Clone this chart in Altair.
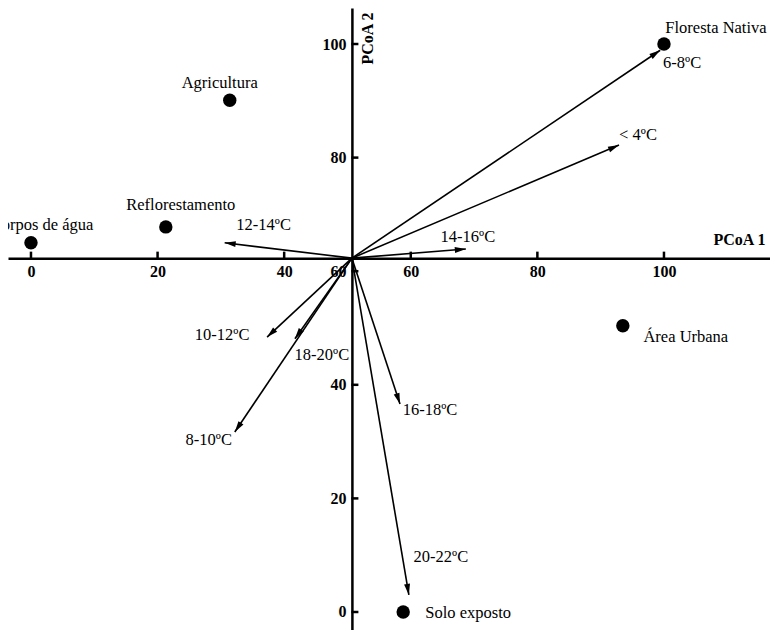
import math
import altair as alt
import pandas as pd

# ---------------- data ----------------
site_names = ["Corpos de água", "Reflorestamento", "Agricultura",
              "Floresta Nativa", "Área Urbana", "Solo exposto"]
site_x = [0.0, 21.3, 31.4, 100.0, 93.5, 58.8]
site_y = [65.0, 67.8, 90.1, 100.0, 50.4, 0.0]

temp_names = ["6-8ºC", "< 4ºC", "14-16ºC", "12-14ºC", "10-12ºC",
              "18-20ºC", "8-10ºC", "16-18ºC", "20-22ºC"]
temp_x = [99.4, 92.9, 68.7, 30.6, 37.3, 41.7, 32.2, 58.3, 59.7]
temp_y = [98.9, 82.2, 63.9, 65.0, 48.4, 48.1, 31.7, 36.6, 3.0]

origin_x = 50.7
origin_y = 62.3

tick_values = [0, 20, 40, 60, 80, 100]

# ---------------- layout / style ----------------
W, H = 762, 622
XMIN, XMAX = -3.63, 116.75
YMIN, YMAX = -3.17, 106.34
px_x = W / (XMAX - XMIN)
px_y = H / (YMAX - YMIN)
axis_svg_y = (YMAX - origin_y) * px_y
axis_svg_x = (origin_x - XMIN) * px_x

FONT = "Liberation Serif"

site_offsets = [(11, -18), (15, -22), (-10, -17), (52, -16), (63, 11), (65, 1)]
temp_offsets = [(22, 13), (19, -10), (2, -12), (39, -18), (-45, -2),
                (27, 16), (-26, 8), (30, 6), (32, -38)]

xscale = alt.Scale(domain=[XMIN, XMAX], nice=False, zero=False)
yscale = alt.Scale(domain=[YMIN, YMAX], nice=False, zero=False)

common_axis = dict(values=tick_values, grid=False, ticks=False, tickSize=0,
                   domainColor="black", domainWidth=2.5,
                   labelFont=FONT, labelFontSize=16, labelFontWeight="bold",
                   labelColor="black", labelOverlap=False, labelFlush=False,
                   titleFont=FONT, titleFontSize=16, titleFontWeight="bold",
                   titleColor="black")

xaxis = alt.Axis(offset=axis_svg_y - H, labelPadding=5, title="PCoA 1",
                 titleX=757, titleY=-19, titleAlign="right",
                 titleBaseline="middle", **common_axis)
yaxis = alt.Axis(offset=-axis_svg_x, labelPadding=6, title="PCoA 2",
                 titleAngle=270, titleX=16, titleY=30, titleAlign="center",
                 titleBaseline="middle", **common_axis)


def X(field="x"):
    return alt.X(f"{field}:Q", scale=xscale, axis=xaxis, title="PCoA 1")


def Y(field="y"):
    return alt.Y(f"{field}:Q", scale=yscale, axis=yaxis, title="PCoA 2")


# ---------------- frames ----------------
sites = pd.DataFrame({"name": site_names, "x": site_x, "y": site_y})
temps = pd.DataFrame({"name": temp_names, "x": temp_x, "y": temp_y})
temps["ox"] = origin_x
temps["oy"] = origin_y
temps["angle"] = [
    (math.degrees(math.atan2((tx - origin_x) * px_x, (ty - origin_y) * px_y)) + 360) % 360
    for tx, ty in zip(temp_x, temp_y)
]

xticks = pd.DataFrame({"x": tick_values, "y": [origin_y] * len(tick_values)})
yticks = pd.DataFrame({"x": [origin_x] * len(tick_values), "y": tick_values})

layers = []

layers.append(
    alt.Chart(xticks).mark_tick(orient="vertical", size=7, thickness=2.5,
                                yOffset=-3, color="black", opacity=1)
    .encode(x=X(), y=Y())
)
layers.append(
    alt.Chart(yticks).mark_tick(orient="horizontal", size=7, thickness=2.5,
                                xOffset=3, color="black", opacity=1)
    .encode(x=X(), y=Y())
)

# arrow shafts
layers.append(
    alt.Chart(temps).mark_rule(color="black", strokeWidth=1.6)
    .encode(x=X(), y=Y(), x2=alt.X2("ox"), y2=alt.Y2("oy"))
)
# arrow heads
layers.append(
    alt.Chart(temps).mark_point(shape="M0,0L-0.6,2.2L0.6,2.2Z", filled=True,
                                size=100, color="black", opacity=1)
    .encode(x=X(), y=Y(), angle=alt.Angle("angle:Q", scale=None))
)

# site points
layers.append(
    alt.Chart(sites).mark_circle(size=180, color="black", opacity=1)
    .encode(x=X(), y=Y())
)

# labels
for i, (dx, dy) in enumerate(site_offsets):
    layers.append(
        alt.Chart(sites.iloc[[i]]).mark_text(font=FONT, fontSize=16.5, color="black",
                                             align="center", baseline="middle",
                                             dx=dx, dy=dy)
        .encode(x=X(), y=Y(), text="name:N")
    )
for i, (dx, dy) in enumerate(temp_offsets):
    layers.append(
        alt.Chart(temps.iloc[[i]]).mark_text(font=FONT, fontSize=16.5, color="black",
                                             align="center", baseline="middle",
                                             dx=dx, dy=dy)
        .encode(x=X(), y=Y(), text="name:N")
    )

chart = (
    alt.layer(*layers)
    .properties(width=W, height=H, autosize=alt.AutoSizeParams(type="none"),
                padding=0, background="white")
    .configure_view(stroke=None)
)

chart.save("out.html", embed_options={"renderer": "svg", "actions": False})
